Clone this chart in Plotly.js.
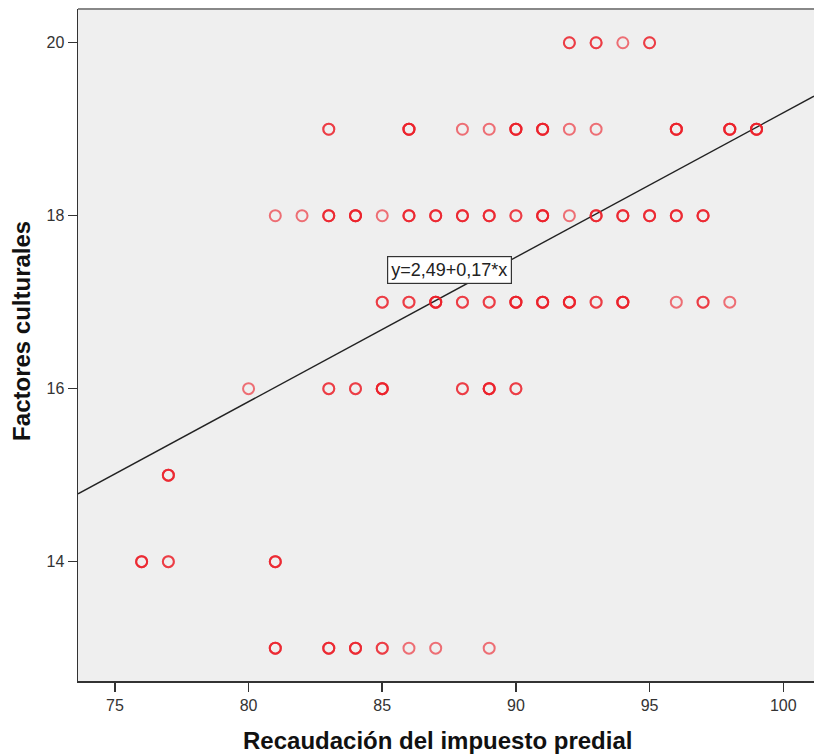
<!DOCTYPE html>
<html>
<head>
<meta charset="utf-8">
<script src="https://cdn.plot.ly/plotly-3.0.1.min.js"></script>
<style>html,body{margin:0;padding:0;background:#fff;}#chart{width:814px;height:754px;}</style>
</head>
<body>
<div id="chart"></div>
<script>
// Observed points (x = Recaudación, y = Factores culturales) and overlap counts
const xVals  = [92,93,94,95,
                83,86,88,89,90,91,92,93,96,98,99,
                81,82,83,84,85,86,87,88,89,90,91,92,93,94,95,96,97,
                85,86,87,88,89,90,91,92,93,94,96,97,98,
                80,83,84,85,88,89,90,
                77,
                76,77,81,
                81,83,84,85,86,87,89];
const yVals  = [20,20,20,20,
                19,19,19,19,19,19,19,19,19,19,19,
                18,18,18,18,18,18,18,18,18,18,18,18,18,18,18,18,18,
                17,17,17,17,17,17,17,17,17,17,17,17,17,
                16,16,16,16,16,16,16,
                15,
                14,14,14,
                13,13,13,13,13,13,13];
const counts = [2,2,1,2,
                2,4,1,1,4,4,1,1,4,4,4,
                1,1,3,4,1,3,3,3,3,2,4,1,3,3,3,3,3,
                2,2,4,2,2,4,4,4,2,4,1,2,1,
                1,2,2,4,2,4,2,
                3,
                3,2,3,
                3,3,3,2,1,1,1];

const fitIntercept = 2.49;
const fitSlope = 0.167;
const eqLabel = 'y=2,49+0,17*x';
const xRange = [73.62, 101.15];
const yRange = [12.62, 20.39];
const xTicks = [75, 80, 85, 90, 95, 100];
const yTicks = [14, 16, 18, 20];
const xTitle = 'Recaudación del impuesto predial';
const yTitle = 'Factores culturales';

const px = [], py = [];
xVals.forEach((x, i) => { for (let k = 0; k < counts[i]; k++) { px.push(x); py.push(yVals[i]); } });

const red = 'rgb(236,30,40)';
const pts = {
  x: px, y: py, type: 'scatter', mode: 'markers', hoverinfo: 'x+y',
  marker: {symbol: 'circle-open', size: 11, color: red, opacity: 0.62,
           line: {width: 2, color: red}}
};
const fit = {
  x: xRange, y: xRange.map(x => fitIntercept + fitSlope * x),
  type: 'scatter', mode: 'lines', hoverinfo: 'skip',
  line: {color: '#222', width: 1.4}
};

const tickFont = {family: 'Liberation Sans, Arial, sans-serif', size: 16, color: '#333'};
const titleFont = {family: 'Liberation Sans, Arial, sans-serif', size: 24, color: '#111', weight: 'bold'};

const layout = {
  width: 814, height: 754,
  margin: {l: 78, r: 0, t: 9, b: 73},
  paper_bgcolor: '#ffffff', plot_bgcolor: '#efefef',
  showlegend: false,
  xaxis: {range: xRange, tickvals: xTicks, ticks: 'outside', ticklen: 9, tickwidth: 1.5, tickcolor: '#333',
          showgrid: false, zeroline: false, showline: true, linecolor: '#333', linewidth: 1.5,
          tickfont: tickFont},
  yaxis: {range: yRange, tickvals: yTicks, ticks: 'outside', ticklen: 9, tickwidth: 1.5, tickcolor: '#333',
          showgrid: false, zeroline: false, showline: true, linecolor: '#333', linewidth: 1.5,
          tickfont: tickFont},
  shapes: [{type: 'line', xref: 'paper', yref: 'paper', x0: 0, x1: 1, y0: 1, y1: 1,
            line: {color: '#888', width: 2}}],
  annotations: [
    {x: 87.52, y: 17.37, xref: 'x', yref: 'y', text: eqLabel, showarrow: false,
     font: {family: 'Liberation Sans, Arial, sans-serif', size: 18, color: '#222'},
     bgcolor: '#ffffff', bordercolor: '#333', borderwidth: 1.2, borderpad: 3},
    {x: 0.4878, y: -0.0878, xref: 'paper', yref: 'paper', xanchor: 'center', yanchor: 'middle',
     text: xTitle, showarrow: false, font: titleFont},
    {x: -0.0761, y: 0.521, xref: 'paper', yref: 'paper', xanchor: 'center', yanchor: 'middle',
     text: yTitle, textangle: -90, showarrow: false, font: titleFont}
  ]
};

Plotly.newPlot('chart', [fit, pts], layout, {displayModeBar: false, staticPlot: true});
</script>
</body>
</html>
